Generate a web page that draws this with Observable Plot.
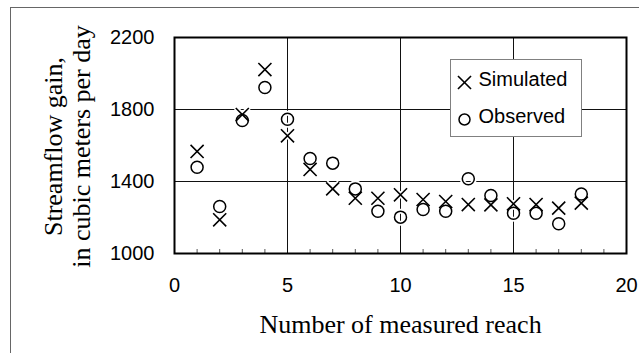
<!DOCTYPE html>
<html>
<head>
<meta charset="utf-8">
<script src="https://cdn.jsdelivr.net/npm/d3@7"></script>
<script src="https://cdn.jsdelivr.net/npm/@observablehq/plot@0.6"></script>
<style>
  html, body { margin: 0; padding: 0; background: #fff; }
  #chart svg { display: block; }
</style>
</head>
<body>
<div id="chart"></div>
<script>
// Data
const reach = [1, 2, 3, 4, 5, 6, 7, 8, 9, 10, 11, 12, 13, 14, 15, 16, 17, 18];
const simulated = [1567, 1187, 1772, 2022, 1654, 1467, 1359, 1307, 1307, 1326, 1300, 1289, 1272, 1270, 1276, 1272, 1252, 1280];
const observed  = [1479, 1261, 1739, 1922, 1746, 1528, 1502, 1359, 1235, 1202, 1244, 1235, 1415, 1322, 1224, 1224, 1165, 1331];
const xTicks = [0, 5, 10, 15, 20];
const yTicks = [1000, 1400, 1800, 2200];
const xGrid = [5, 10, 15];
const yGrid = [1400, 1800];
const minorTicks = [1, 2, 3, 4, 6, 7, 8, 9, 11, 12, 13, 14, 16, 17, 18, 19];
const seriesNames = ["Simulated", "Observed"];
const xTitle = "Number of measured reach";
const yTitle = "Streamflow gain,\nin cubic meters per day";

const rows = reach.map((r, i) => ({reach: r, simulated: simulated[i], observed: observed[i]}));

const sans = "'Liberation Sans', Arial, sans-serif";
const serif = "'Liberation Serif', 'Times New Roman', serif";
const ml = 174, mt = 37;

const chart = Plot.plot({
  width: 639,
  height: 353,
  marginLeft: ml,
  marginRight: 13,
  marginTop: mt,
  marginBottom: 100,
  x: {domain: [0, 20]},
  y: {domain: [1000, 2200]},
  style: {fontFamily: sans, fontSize: "20px", background: "#fff", color: "#000"},
  marks: [
    // outer picture border (left & top visible)
    Plot.frame({stroke: "#666", strokeWidth: 1, insetLeft: 10 - ml, insetTop: 7 - mt, insetRight: -40, insetBottom: -140}),
    Plot.gridX(xGrid, {stroke: "#111", strokeOpacity: 1, strokeWidth: 1}),
    Plot.gridY(yGrid, {stroke: "#111", strokeOpacity: 1, strokeWidth: 1}),
    Plot.tickX(minorTicks, {x: d => d, insetTop: 212, stroke: "#555", strokeWidth: 1}),
    // white halos
    Plot.dot(rows, {x: "reach", y: "simulated", symbol: "times", r: 6, stroke: "#fff", strokeWidth: 5}),
    Plot.dot(rows, {x: "reach", y: "observed", symbol: "circle", r: 6, stroke: "#fff", strokeWidth: 5}),
    // markers
    Plot.dot(rows, {x: "reach", y: "simulated", symbol: "times", r: 6, stroke: "#000", strokeWidth: 1.6}),
    Plot.dot(rows, {x: "reach", y: "observed", symbol: "circle", r: 6, stroke: "#000", strokeWidth: 1.5}),
    Plot.frame({stroke: "#000", strokeWidth: 2}),
    // legend box
    Plot.frame({fill: "#fff", stroke: "#808080", strokeWidth: 1, insetLeft: 276, insetRight: 45, insetTop: 22, insetBottom: 117}),
    Plot.dot([seriesNames[0]], {frameAnchor: "top-left", dx: 464 - ml, dy: 82 - mt, symbol: "times", r: 6, stroke: "#000", strokeWidth: 1.6}),
    Plot.dot([seriesNames[1]], {frameAnchor: "top-left", dx: 464 - ml, dy: 119 - mt, symbol: "circle", r: 5.5, stroke: "#000", strokeWidth: 1.5}),
    Plot.text([seriesNames[0]], {frameAnchor: "top-left", dx: 478 - ml, dy: 41.6, textAnchor: "start", lineAnchor: "middle", fontSize: 20, fontFamily: sans, fill: "#000"}),
    Plot.text([seriesNames[1]], {frameAnchor: "top-left", dx: 478 - ml, dy: 78.6, textAnchor: "start", lineAnchor: "middle", fontSize: 20, fontFamily: sans, fill: "#000"}),
    // axes
    Plot.axisX({ticks: xTicks, tickSize: 0, tickPadding: 24, tickFormat: d => String(d), label: null, fontSize: 20, fontFamily: sans}),
    Plot.axisY({ticks: yTicks, tickSize: 0, tickPadding: 20, tickFormat: d => String(d), label: null, fontSize: 20, fontFamily: sans}),
    // titles
    Plot.text([xTitle], {frameAnchor: "bottom", dy: 70.7, lineAnchor: "middle", textAnchor: "middle", fontFamily: serif, fontSize: 26, fill: "#000"}),
    Plot.text([yTitle], {frameAnchor: "left", dx: -107.3, dy: 1, rotate: -90, lineAnchor: "middle", textAnchor: "middle", lineHeight: 1.08, fontFamily: serif, fontSize: 26, fill: "#000"})
  ]
});
document.getElementById("chart").appendChild(chart);
</script>
</body>
</html>
